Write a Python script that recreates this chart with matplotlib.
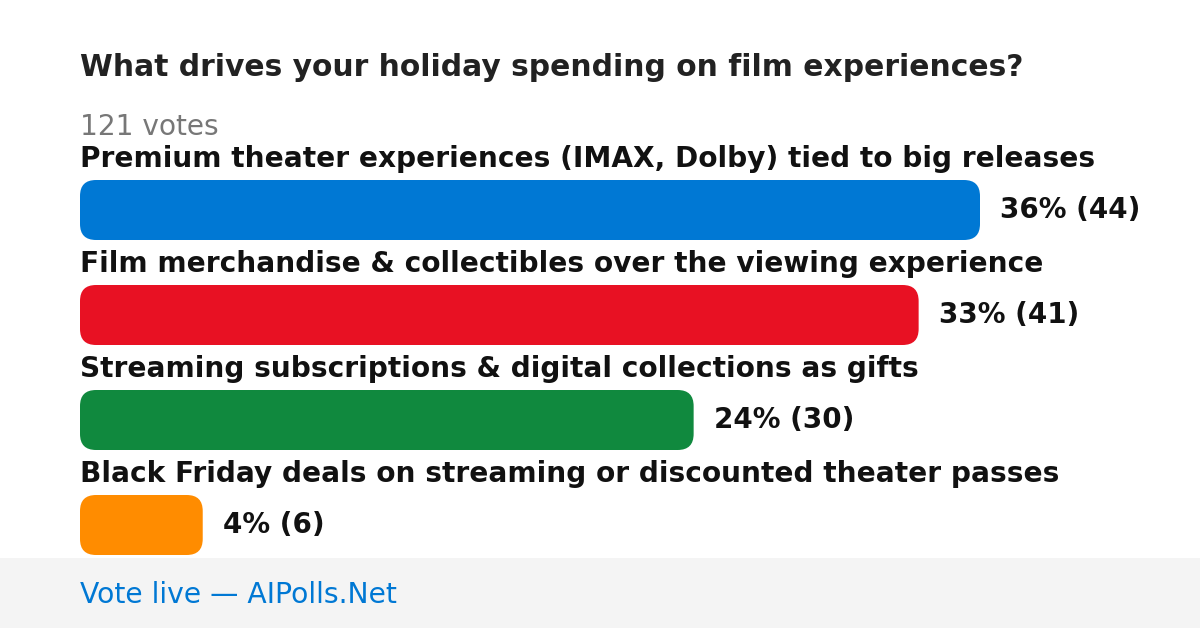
import matplotlib
matplotlib.use("Agg")
import matplotlib.pyplot as plt
from matplotlib.patches import FancyBboxPatch, Rectangle

plt.rcParams["font.family"] = ["DejaVu Sans"]

# datos de la encuesta
title = "What drives your holiday spending on film experiences?"
total_votes = 121
labels = [
    "Premium theater experiences (IMAX, Dolby) tied to big releases",
    "Film merchandise & collectibles over the viewing experience",
    "Streaming subscriptions & digital collections as gifts",
    "Black Friday deals on streaming or discounted theater passes",
]
votes = [44, 41, 30, 6]
percents = [36, 33, 24, 4]
colors = ["#0078D4", "#E81123", "#10893E", "#FF8C00"]

W, H = 1200, 628
fig = plt.figure(figsize=(W / 100, H / 100), dpi=100)
ax = fig.add_axes([0, 0, 1, 1])
ax.set_xlim(0, W)
ax.set_ylim(H, 0)
ax.axis("off")

# titulo y total de votos
ax.text(80, 68, title, fontsize=21.4, fontweight="bold", color="#222222",
        va="center", ha="left")
ax.text(80, 127, f"{total_votes} votes", fontsize=20.2, color="#777777",
        va="center", ha="left")

# barras
left = 80
max_w = 900
bar_h = 60
top0 = 180
step = 105
vmax = max(votes)
for i, (lab, v, p, c) in enumerate(zip(labels, votes, percents, colors)):
    y = top0 + i * step
    w = v / vmax * max_w
    ax.text(left, y - 21, lab, fontsize=20.2, fontweight="bold", color="#111111",
            va="center", ha="left")
    ax.add_patch(FancyBboxPatch((left, y), w, bar_h,
                                boxstyle="round,pad=0,rounding_size=16",
                                facecolor=c, edgecolor="none"))
    ax.text(left + w + 20, y + bar_h / 2, f"{p}% ({v})", fontsize=20,
            fontweight="bold", color="#111111", va="center", ha="left")

# pie de pagina
ax.add_patch(Rectangle((0, 558), W, H - 558, facecolor="#F4F4F4", edgecolor="none"))
ax.text(80, 595, "Vote live \u2014 AIPolls.Net", fontsize=20.3, color="#0078D4",
        va="center", ha="left")

fig.savefig("out.png", dpi=100)
